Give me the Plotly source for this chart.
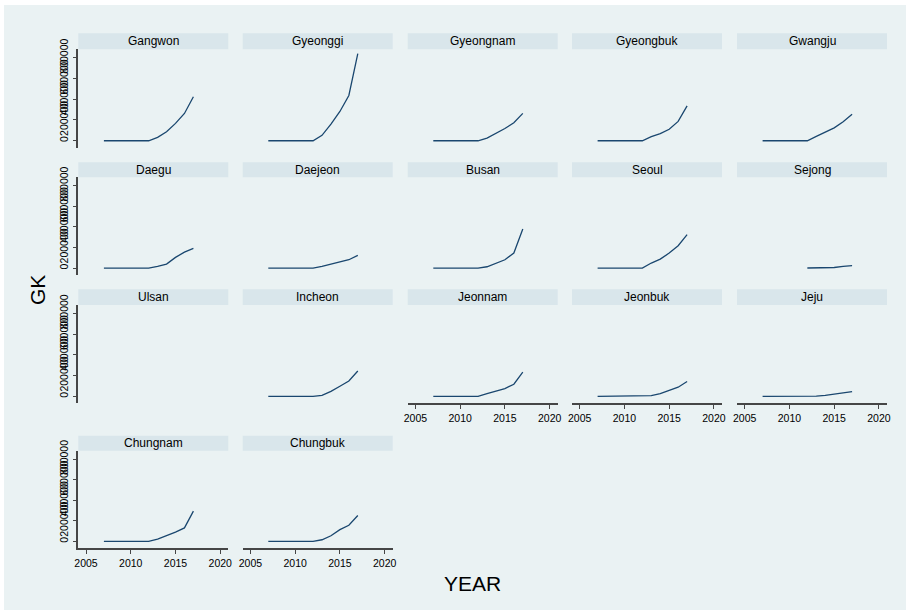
import plotly.graph_objects as go

W, H = 910, 610

years = [2007, 2008, 2009, 2010, 2011, 2012, 2013, 2014, 2015, 2016, 2017]

regions = ["Gangwon", "Gyeonggi", "Gyeongnam", "Gyeongbuk", "Gwangju",
           "Daegu", "Daejeon", "Busan", "Seoul", "Sejong",
           "Ulsan", "Incheon", "Jeonnam", "Jeonbuk", "Jeju",
           "Chungnam", "Chungbuk"]

gangwon   = [0, 0, 0, 0, 0, 0, 32000, 87000, 167000, 263000, 424000]
gyeonggi  = [0, 0, 0, 0, 0, 0, 52000, 161000, 282000, 436000, 839000]
gyeongnam = [0, 0, 0, 0, 0, 0, 26000, 69000, 118000, 173000, 264000]
gyeongbuk = [0, 0, 0, 0, 0, 0, 39000, 69000, 111000, 186000, 336000]
gwangju   = [0, 0, 0, 0, 0, 0, 42000, 82000, 124000, 183000, 255000]
daegu     = [0, 0, 0, 0, 0, 0, 16000, 39000, 104000, 155000, 191000]
daejeon   = [0, 0, 0, 0, 0, 0, 16000, 39000, 55000, 81000, 123000]
busan     = [0, 0, 0, 0, 0, 0, 13000, 45000, 81000, 146000, 379000]
seoul     = [0, 0, 0, 0, 0, 0, 49000, 87000, 146000, 217000, 324000]
sejong    = [None, None, None, None, None, 1000, 2000, 4000, 6000, 17000, 23000]
ulsan     = [None, None, None, None, None, None, None, None, None, None, None]
incheon   = [0, 0, 0, 0, 0, 0, 10000, 48000, 97000, 148000, 245000]
jeonnam   = [0, 0, 0, 0, 0, 0, 26000, 49000, 75000, 117000, 234000]
jeonbuk   = [0, 0, 0, 0, 0, 0, 6500, 26000, 55000, 88000, 143000]
jeju      = [0, 0, 0, 0, 0, 0, 3000, 10000, 20000, 29000, 46000]
chungnam  = [0, 0, 0, 0, 0, 0, 23000, 55000, 91000, 131000, 294000]
chungbuk  = [0, 0, 0, 0, 0, 0, 16000, 55000, 114000, 157000, 251000]

series = [gangwon, gyeonggi, gyeongnam, gyeongbuk, gwangju,
          daegu, daejeon, busan, seoul, sejong,
          ulsan, incheon, jeonnam, jeonbuk, jeju,
          chungnam, chungbuk]

x_ticks = [2005, 2010, 2015, 2020]
y_ticks = [0, 200000, 400000, 600000, 800000]
y_ticktext = ["0", "200000", "400000", "600000", "800000"]

# layout in pixels
col_left = [78.3, 242.7, 407.7, 572.0, 737.0]
panel_w = 150.0
rows = [  # strip top, plot top, plot bottom
    (33.3, 49.3, 147.7),
    (162.3, 177.3, 275.0),
    (289.3, 305.0, 403.3),
    (435.7, 450.7, 548.3),
]
xlabel_panels = {12, 13, 14, 15, 16}

BG = "rgb(234,242,243)"
STRIP = "rgb(217,230,235)"
LINE = "rgb(26,71,111)"
AXIS = "rgb(70,70,70)"
FONT = "Arial, Liberation Sans, sans-serif"

fig = go.Figure()
layout = {}
shapes = [dict(type="rect", xref="paper", yref="paper", layer="below",
               x0=4 / W, x1=906 / W, y0=0, y1=1 - 5 / H,
               fillcolor=BG, line=dict(width=0))]
annotations = []

for i, (name, vals) in enumerate(zip(regions, series)):
    r, c = divmod(i, 5)
    st, pt, pb = rows[r]
    x0 = col_left[c]
    x1 = x0 + panel_w
    sfx = "" if i == 0 else str(i + 1)
    xa, ya = "x" + sfx, "y" + sfx
    fig.add_trace(go.Scatter(x=years, y=vals, mode="lines",
                             line=dict(color=LINE, width=1.3),
                             xaxis=xa, yaxis=ya, showlegend=False,
                             connectgaps=False, hoverinfo="skip"))
    show_x = i in xlabel_panels
    layout["xaxis" + sfx] = dict(
        domain=[x0 / W, x1 / W], anchor=ya, range=[2004.14, 2020.9],
        tickvals=x_ticks, showticklabels=show_x,
        ticks="outside" if show_x else "", ticklen=4, tickcolor=AXIS,
        tickwidth=1.2,
        showline=show_x, linecolor=AXIS, linewidth=1.5,
        showgrid=False, zeroline=False, automargin=False,
        tickfont=dict(size=10.5, color="black", family=FONT),
        fixedrange=True)
    show_y = c == 0
    layout["yaxis" + sfx] = dict(
        domain=[1 - pb / H, 1 - pt / H], anchor=xa, range=[-67000, 881000],
        tickvals=y_ticks, ticktext=y_ticktext, showticklabels=show_y,
        tickangle=-90, ticks="outside" if show_y else "", ticklen=4,
        tickwidth=1.2,
        tickcolor=AXIS, showline=show_y, linecolor=AXIS, linewidth=1.5,
        showgrid=True, gridcolor=BG, gridwidth=1.5, zeroline=False,
        automargin=False,
        tickfont=dict(size=10.5, color="black", family=FONT),
        fixedrange=True)
    shapes.append(dict(type="rect", xref="paper", yref="paper",
                       x0=x0 / W, x1=x1 / W, y0=1 - pt / H, y1=1 - st / H,
                       fillcolor=STRIP, line=dict(width=0)))
    annotations.append(dict(text=name, xref="paper", yref="paper",
                            x=(x0 + x1) / 2 / W, y=1 - (st + pt) / 2 / H,
                            xanchor="center", yanchor="middle", showarrow=False,
                            font=dict(size=12, color="black", family=FONT)))

annotations.append(dict(text="GK", xref="paper", yref="paper",
                        x=37 / W, y=1 - 290 / H, textangle=-90,
                        xanchor="center", yanchor="middle", showarrow=False,
                        font=dict(size=21, color="black", family=FONT)))
annotations.append(dict(text="YEAR", xref="paper", yref="paper",
                        x=472 / W, y=1 - 583 / H,
                        xanchor="center", yanchor="middle", showarrow=False,
                        font=dict(size=21, color="black", family=FONT)))

fig.update_layout(
    template="none",
    width=W, height=H,
    margin=dict(l=0, r=0, t=0, b=0, pad=0, autoexpand=False),
    paper_bgcolor="white", plot_bgcolor="white",
    shapes=shapes, annotations=annotations,
    font=dict(family=FONT),
    showlegend=False,
    **layout)

fig.write_html("out.html",
               config={"displayModeBar": False},
               post_script="document.body.style.margin='0';"
                           "document.body.style.overflow='hidden';")
